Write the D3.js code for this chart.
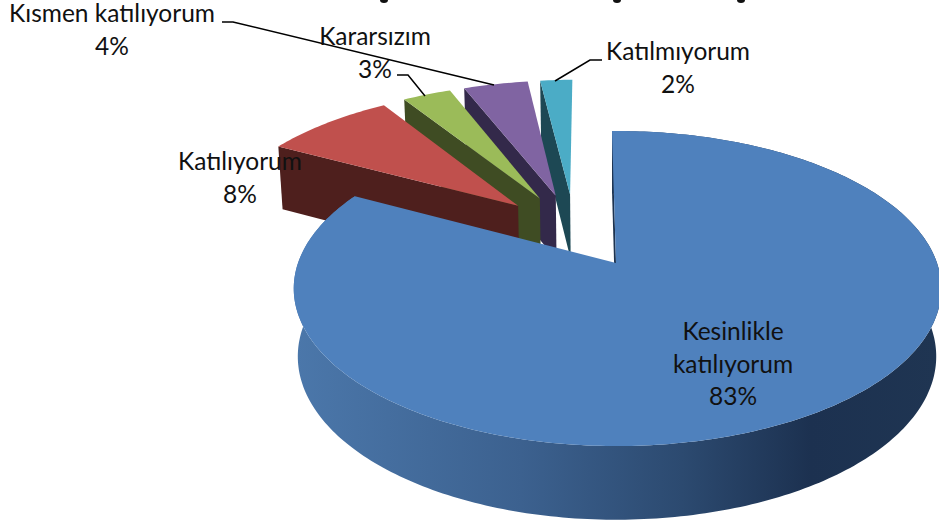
<!DOCTYPE html>
<html><head><meta charset="utf-8">
<script src="https://cdn.jsdelivr.net/npm/d3@7"></script>
<style>html,body{margin:0;padding:0;background:#fff}svg{display:block}text{font-family:Lato,"Open Sans",sans-serif;font-size:24.5px;fill:#111;text-anchor:middle}</style>
</head><body><svg id="c" width="939" height="522"></svg>
<script>
const categories = ["Kesinlikle katılıyorum","Katılıyorum","Kararsızım","Kısmen katılıyorum","Katılmıyorum"];
const values = [83,8,3,4,2];
const topColors = ["#4f81bd","#c0504d","#9bbb59","#8064a2","#4bacc6"];
const wallColors = ["#1d3350","#4e1f1d","#3f4c23","#33294a","#1d4854"];
const labelLines = [["Kesinlikle","katılıyorum","83%"],["Katılıyorum","8%"],["Kararsızım","3%"],["Kısmen katılıyorum","4%"],["Katılmıyorum","2%"]];
const labelPos = [[733,340],[240,170],[375,45],[112,22],[678,60]];
const leaders = [null,null,[[397,75],[408,75],[425,96]],[[222,22],[233,22],[494,85]],[[602,60],[590,60],[555,81]]];
const clippedTitleMarks = [[384,0],[617,0],[741,0]];

const svg = d3.select("#c");
const apex = [616,263], q = .162, explode = .26;
const A = 321, AL = 318, B = 153.4, A2 = 316, A2L = 314, B2 = 159, DEPTH = 67;
const pieGen = d3.pie().sort(null).value(d=>d).startAngle(-.0145).endAngle(2*Math.PI-.0145);
const arcs = pieGen(values);
const mid0 = (arcs[0].startAngle+arcs[0].endAngle)/2;
const origin = [-explode*Math.sin(mid0), -explode*Math.cos(mid0)];
function topFace(u,v){const w=1+q*v;return [apex[0]+(u<0?AL:A)*u/w, apex[1]-B*v/w];}
function botFace(u,v){const w=1+q*v;return [apex[0]+(u<0?A2L:A2)*u/w, apex[1]+DEPTH-B2*v/w];}
const defs = svg.append("defs");
const g = defs.append("linearGradient").attr("id","side").attr("gradientUnits","userSpaceOnUse").attr("x1",296).attr("x2",939).attr("y1",0).attr("y2",0);
[[0,"#4b77aa"],[.35,"#3c618f"],[.6,"#2c4a70"],[.8,"#1c3150"],[1,"#1f3552"]].forEach(s=>g.append("stop").attr("offset",s[0]).attr("stop-color",s[1]));
const line = d3.line();
function rim(c,f,from,to){const n=Math.max(2,Math.ceil((to-from)*60)),p=[];
  for(let i=0;i<=n;i++){const t=from+(to-from)*i/n;p.push(f(c[0]+Math.sin(t),c[1]+Math.cos(t)));}return p;}
const order=[4,3,2,1,0];
order.forEach(i=>{
  const a=arcs[i], m=(a.startAngle+a.endAngle)/2;
  const c=[origin[0]+explode*Math.sin(m),origin[1]+explode*Math.cos(m)];
  const layer=svg.append("g");
  const su=c[0]+Math.sin(a.startAngle), sv=c[1]+Math.cos(a.startAngle);
  const r1=rim(c,topFace,a.startAngle,a.endAngle);
  if(i===0){
    const r2=rim(c,botFace,a.startAngle,a.endAngle);
    layer.append("path").attr("d",line(r1.concat(r2.slice().reverse()))+"Z").attr("fill","url(#side)");
  }
  layer.append("path").attr("d",line([topFace(...c),topFace(su,sv),botFace(su,sv),botFace(...c)])+"Z").attr("fill",wallColors[i]);
  layer.append("path").attr("d",line([topFace(...c)].concat(r1))+"Z").attr("fill",topColors[i]);
});
leaders.forEach(l=>{if(l)svg.append("path").attr("d",line(l)).attr("fill","none").attr("stroke","#000").attr("stroke-width",1.5);});
labelLines.forEach((ls,i)=>{
  const t=svg.append("text");
  ls.forEach((s,j)=>t.append("tspan").attr("x",labelPos[i][0]).attr("y",labelPos[i][1]+j*32.5).text(s));
});
clippedTitleMarks.forEach(p=>svg.append("ellipse").attr("cx",p[0]).attr("cy",p[1]).attr("rx",4).attr("ry",3).attr("fill","#111"));
</script></body></html>
